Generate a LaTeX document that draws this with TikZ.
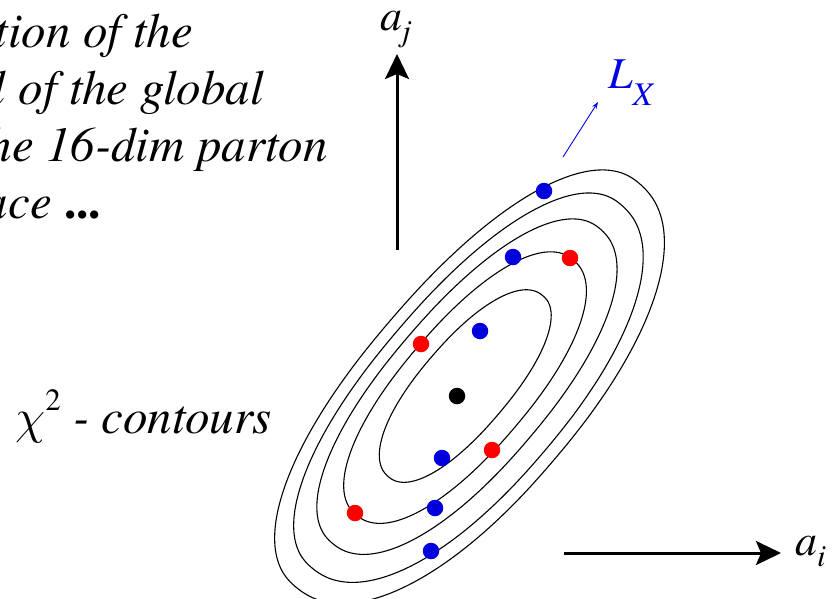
\documentclass[tikz,border=0pt]{standalone}
\usepackage{fix-cm}
\usepackage{fontspec}
\newfontfamily\tmsfont{texgyretermes}[Extension=.otf, UprightFont=*-regular, ItalicFont=*-italic, BoldFont=*-bold, BoldItalicFont=*-bolditalic]
\usetikzlibrary{arrows.meta}
\definecolor{dotblue}{RGB}{0,0,220}
\definecolor{dotred}{RGB}{255,0,0}
\definecolor{lxblue}{RGB}{0,0,230}
\def\cexp{0.909}
\newcommand{\contourpath}[4]{%
 \draw[contour] plot[smooth cycle, domain=0.5:357.5, samples=120, variable=\t]
  ({((cos(\t)>0) ? #1 : #2)*cos(\t)/abs(cos(\t))*pow(abs(cos(\t)),\cexp)},
   {((sin(\t)>0) ? #3 : #4)*sin(\t)/abs(sin(\t))*pow(abs(sin(\t)),\cexp)});
}
\begin{document}
\begin{tikzpicture}[x=1pt,y=-1pt,
  contour/.style={draw=black, line width=1.1pt},
  dotb/.style={circle, fill=dotblue, inner sep=0pt, minimum size=16.5pt},
  dotr/.style={circle, fill=dotred, inner sep=0pt, minimum size=16.5pt},
  dotk/.style={circle, fill=black, inner sep=0pt, minimum size=16.5pt},
  bigtext/.style={font=\fontsize{49}{58}\selectfont\tmsfont\itshape, inner sep=0pt},
  labtext/.style={font=\fontsize{44}{52}\selectfont\tmsfont\itshape, inner sep=0pt},
  axisline/.style={line width=3pt, -{Stealth[length=25pt,width=24pt,inset=5pt]}},
  lxarrow/.style={draw=lxblue, line width=0.9pt, -{Stealth[length=7pt,width=5pt]}}]
\useasboundingbox (0,0) rectangle (835,598);
\clip (0,0) rectangle (835,598);

% text block
\node[bigtext, anchor=base east] (t1) at (193,47) {tion of the};
\node[bigtext, anchor=base east] (t2) at (264,104) {l of the global};
\node[bigtext, anchor=base east] (t3) at (328,161) {he 16-dim parton};
\node[bigtext, anchor=base east] (t4) at (101,218) {ace \textup{\textbf{...}}};

\node[bigtext, anchor=base west] (chi) at (15,433) {$\chi$\raisebox{0.45em}{\fontsize{31}{31}\selectfont\textup{2}} - contours};

% contours
\coordinate (ctr) at (465,387);
\begin{scope}[shift={(ctr)}, x=1pt, y=1pt, rotate=49.5]
 \contourpath{120}{118}{45}{43}
 \contourpath{167}{168}{62}{64}
 \contourpath{208}{205}{76}{82}
 \contourpath{240}{237}{88}{102}
 \contourpath{268}{262}{100}{115}
\end{scope}

% dots
\node[dotb] (b1) at (544,191) {};
\node[dotb] (b2) at (513,257) {};
\node[dotb] (b3) at (480,331) {};
\node[dotb] (b4) at (442,458) {};
\node[dotb] (b5) at (435,508) {};
\node[dotb] (b6) at (431,551) {};
\node[dotr] (r1) at (570,258) {};
\node[dotr] (r2) at (421,344) {};
\node[dotr] (r3) at (492,450) {};
\node[dotr] (r4) at (355,513) {};
\node[dotk] (k0) at (457,396) {};

% axes
\coordinate (ajS) at (397,250);
\coordinate (ajE) at (397,54);
\draw[axisline] (ajS) -- (ajE);
\coordinate (aiS) at (564,553);
\coordinate (aiE) at (781,553);
\draw[axisline] (aiS) -- (aiE);

\node[labtext, anchor=base west] (aj) at (380,30) {a\raisebox{-0.26em}{\fontsize{31}{31}\selectfont j}};
\node[labtext, anchor=base west] (ai) at (795,555) {a\raisebox{-0.26em}{\fontsize{31}{31}\selectfont i}};

% L_X
\coordinate (lxS) at (563,157);
\coordinate (lxE) at (598,102);
\draw[lxarrow] (lxS) -- (lxE);
\node[labtext, anchor=base west, text=lxblue] (lx) at (608,88) {L\raisebox{-0.4em}{\fontsize{33}{33}\selectfont X}};
\end{tikzpicture}
\end{document}
